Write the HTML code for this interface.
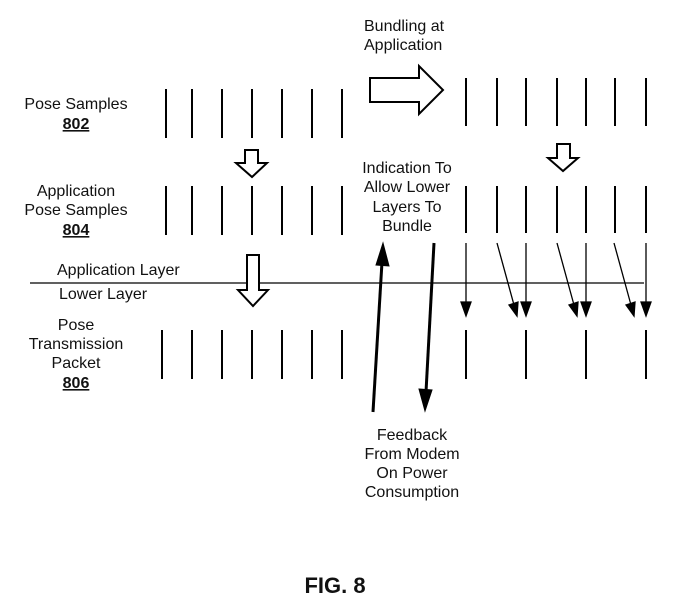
<!DOCTYPE html>
<html><head><style>
body{margin:0;background:#fff;}
svg{display:block;}
text{font-family:"Liberation Sans",sans-serif;font-size:16px;fill:#111;}
</style></head><body>
<svg width="700" height="608" viewBox="0 0 700 608" xmlns="http://www.w3.org/2000/svg">
<g stroke="#000" stroke-width="2">
<path d="M166,89V138M192,89V138M222,89V138M252,89V138M282,89V138M312,89V138M342,89V138"/>
<path d="M166,186V235M192,186V235M222,186V235M252,186V235M282,186V235M312,186V235M342,186V235"/>
<path d="M162,330V379M192,330V379M222,330V379M252,330V379M282,330V379M312,330V379M342,330V379"/>
<path d="M466,78V126M497,78V126M526,78V126M557,78V126M586,78V126M615,78V126M646,78V126"/>
<path d="M466,186V233M497,186V233M526,186V233M557,186V233M586,186V233M615,186V233M646,186V233"/>
<path d="M466,330V379M526,330V379M586,330V379M646,330V379"/>
</g>
<line x1="30" y1="283" x2="644" y2="283" stroke="#000" stroke-width="1.3"/>
<g stroke="#000" stroke-width="1.3" fill="#000">
<line x1="466" y1="243" x2="466" y2="304"/><path d="M461,302H471L466,316Z"/>
<line x1="526" y1="243" x2="526" y2="304"/><path d="M521,302H531L526,316Z"/>
<line x1="586" y1="243" x2="586" y2="304"/><path d="M581,302H591L586,316Z"/>
<line x1="646" y1="243" x2="646" y2="304"/><path d="M641,302H651L646,316Z"/>
<line x1="497" y1="243" x2="514" y2="305"/><path d="M509,305L518,302L517,316Z"/>
<line x1="557" y1="243" x2="574" y2="305"/><path d="M569,305L578,302L577,316Z"/>
<line x1="614" y1="243" x2="631" y2="305"/><path d="M626,305L635,302L634,316Z"/>
</g>
<g stroke="#000" stroke-width="3" fill="#000">
<line x1="373" y1="412" x2="382" y2="262"/>
<path d="M376,265L389,266L383,243Z" stroke-width="1"/>
<line x1="434" y1="243" x2="426" y2="392"/>
<path d="M419,389L432,390L425,411Z" stroke-width="1"/>
</g>
<g fill="#fff" stroke="#000" stroke-width="2">
<path d="M370,78H419V66L443,90L419,114V102H370Z"/>
<path d="M245,150H258V163H267L252,177L236,163H245Z"/>
<path d="M557,144H570V158H578L563,171L548,158H557Z"/>
<path d="M247,255H259V290H268L253,306L238,290H247Z"/>
</g>
<g text-anchor="middle">
<text x="76" y="109">Pose Samples</text>
<text x="76" y="129" font-weight="bold" text-decoration="underline">802</text>
<text x="76" y="196">Application</text>
<text x="76" y="215">Pose Samples</text>
<text x="76" y="235" font-weight="bold" text-decoration="underline">804</text>
<text x="76" y="330">Pose</text>
<text x="76" y="349">Transmission</text>
<text x="76" y="368">Packet</text>
<text x="76" y="388" font-weight="bold" text-decoration="underline">806</text>
<text x="407" y="173">Indication To</text>
<text x="407" y="192">Allow Lower</text>
<text x="407" y="212">Layers To</text>
<text x="407" y="231">Bundle</text>
<text x="412" y="440">Feedback</text>
<text x="412" y="459">From Modem</text>
<text x="412" y="478">On Power</text>
<text x="412" y="497">Consumption</text>
<text x="335" y="593" style="font-size:22px;font-weight:bold">FIG. 8</text>
</g>
<text x="364" y="31">Bundling at</text>
<text x="364" y="50">Application</text>
<text x="57" y="275">Application Layer</text>
<text x="59" y="299">Lower Layer</text>
</svg>
</body></html>
